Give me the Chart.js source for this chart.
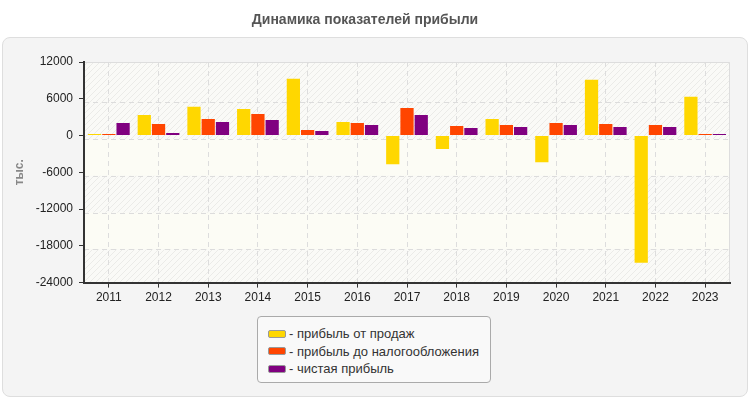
<!DOCTYPE html>
<html lang="ru">
<head>
<meta charset="UTF-8">
<title>Динамика показателей прибыли</title>
<script src="https://cdn.jsdelivr.net/npm/chart.js"></script>
<style>
    body { margin: 0; background: #fff; font-family: 'Liberation Sans', Arial, sans-serif; }
    .janela { position: relative; width: 750px; height: 400px; overflow: hidden; }
    .caixa {
        position: absolute; left: 2px; top: 37px; width: 744px; height: 358px;
        background: #f4f4f4; border: 1px solid #dedede; border-radius: 8px;
    }
    #grafico { position: absolute; left: 0; top: 0; }
    .legenda {
        position: absolute; left: 257px; top: 316px; width: 232px; height: 57px;
        padding-top: 8px; background: #f9f9f9; border: 1px solid #aaa; border-radius: 4px;
        font-size: 13px; color: #333;
    }
    .legenda div { height: 17.5px; line-height: 17.5px; padding-left: 10px; white-space: nowrap; }
    .legenda span {
        display: inline-block; width: 16px; height: 6px; border: 1px solid #999;
        border-radius: 2px; margin-right: 3px; vertical-align: middle; position: relative; top: -1px;
    }
</style>
</head>
<body>
<div class="janela">
    <div class="caixa"></div>
    <canvas id="grafico" width="750" height="400"></canvas>
    <div class="legenda" id="legenda"></div>
</div>

<script>
    const anos = ['2011', '2012', '2013', '2014', '2015', '2016', '2017',
        '2018', '2019', '2020', '2021', '2022', '2023'];

    const lucroVendas = [250, 3370, 4680, 4350, 9270, 2210, -4680, -2210, 2710, -4350, 9100, -20750, 6310];
    const lucroAntesImposto = [250, 1890, 2710, 3530, 900, 2050, 4510, 1560, 1720, 2050, 1890, 1720, 250];
    const lucroLiquido = [2050, 410, 2210, 2540, 740, 1720, 3360, 1230, 1390, 1720, 1390, 1390, 250];

    const nomesSeries = ['прибыль от продаж', 'прибыль до налогообложения', 'чистая прибыль'];
    const coresSeries = ['#FFD700', '#FF4500', '#800080'];

    const yMin = -24000;
    const yMax = 12000;
    const yPasso = 6000;

    // faixas do fundo, de cima para baixo (true = hachurado)
    const faixasHachuradas = [true, true, false, true, false, true];
    const deslocGrade = 3.5;

    function hachura(ctx) {
        const c = document.createElement('canvas');
        c.width = 6; c.height = 6;
        const g = c.getContext('2d');
        g.fillStyle = '#fafaf7';
        g.fillRect(0, 0, 6, 6);
        g.strokeStyle = 'rgba(0,0,0,0.06)';
        g.lineWidth = 1;
        g.beginPath();
        g.moveTo(0, 6); g.lineTo(6, 0);
        g.moveTo(-1, 1); g.lineTo(1, -1);
        g.moveTo(5, 7); g.lineTo(7, 5);
        g.stroke();
        return ctx.createPattern(c, 'repeat');
    }

    const fundoPlugin = {
        id: 'fundo',
        beforeDraw(chart) {
            const { ctx, chartArea: a, scales: { y } } = chart;
            ctx.save();
            ctx.fillStyle = '#fcfcf5';
            ctx.fillRect(a.left, a.top, a.right - a.left, a.bottom - a.top);

            // limites das faixas
            const limites = [a.top];
            for (let v = yMax - yPasso; v > yMin; v -= yPasso) {
                limites.push(y.getPixelForValue(v) + deslocGrade);
            }
            limites.push(a.bottom);

            ctx.fillStyle = hachura(ctx);
            for (let i = 0; i < limites.length - 1; i++) {
                if (faixasHachuradas[i]) {
                    ctx.fillRect(a.left, limites[i], a.right - a.left, limites[i + 1] - limites[i]);
                }
            }

            // linhas horizontais tracejadas
            ctx.strokeStyle = '#dcdcdc';
            ctx.lineWidth = 1;
            ctx.setLineDash([5, 4]);
            for (let i = 1; i < limites.length - 1; i++) {
                const yy = Math.round(limites[i]) + 0.5;
                ctx.beginPath();
                ctx.moveTo(a.left, yy);
                ctx.lineTo(a.right, yy);
                ctx.stroke();
            }

            // borda clara em cima e à direita
            ctx.setLineDash([]);
            ctx.strokeStyle = '#dddddd';
            ctx.beginPath();
            ctx.moveTo(a.left, Math.round(a.top) + 0.5);
            ctx.lineTo(Math.round(a.right) - 0.5, Math.round(a.top) + 0.5);
            ctx.lineTo(Math.round(a.right) - 0.5, a.bottom);
            ctx.stroke();
            ctx.restore();
        }
    };

    const dados = {
        labels: anos,
        datasets: [
            { label: nomesSeries[0], data: lucroVendas, backgroundColor: coresSeries[0] },
            { label: nomesSeries[1], data: lucroAntesImposto, backgroundColor: coresSeries[1] },
            { label: nomesSeries[2], data: lucroLiquido, backgroundColor: coresSeries[2] },
        ]
    };

    const fonteEixo = { family: "'Liberation Sans', Arial, sans-serif", size: 12 };

    const config = {
        type: 'bar',
        data: dados,
        options: {
            responsive: false,
            animation: false,
            devicePixelRatio: 1,
            layout: { padding: { left: 0, right: 20, top: 0, bottom: 92 } },
            datasets: {
                bar: { categoryPercentage: 0.86, barPercentage: 0.93, borderWidth: 0 }
            },
            plugins: {
                legend: { display: false },
                tooltip: { enabled: false },
                title: {
                    display: true,
                    text: 'Динамика показателей прибыли',
                    color: '#555',
                    font: { family: "'Liberation Sans Narrow', 'Liberation Sans', Arial, sans-serif", size: 14, weight: 'bold' },
                    padding: { top: 12, bottom: 33.2 }
                }
            },
            scales: {
                x: {
                    grid: {
                        offset: false,
                        color: '#dddddd',
                        tickColor: '#333',
                        tickLength: 5
                    },
                    border: { color: '#333', width: 2, dash: [5, 4] },
                    ticks: { color: '#222', font: fonteEixo, maxRotation: 0, autoSkip: false, padding: 3 }
                },
                y: {
                    min: yMin,
                    max: yMax,
                    afterFit(scale) { scale.width = 84; },
                    grid: {
                        drawOnChartArea: false,
                        tickColor: '#333',
                        tickLength: 5
                    },
                    border: { color: '#333', width: 2 },
                    ticks: {
                        stepSize: yPasso,
                        color: '#222',
                        font: fonteEixo,
                        padding: 6,
                        callback: v => String(v)
                    },
                    title: {
                        display: true,
                        text: 'тыс.',
                        color: '#888',
                        font: { family: "'Liberation Sans', Arial, sans-serif", size: 12, weight: 'bold' },
                        padding: { top: 12, bottom: 0 }
                    }
                }
            }
        },
        plugins: [fundoPlugin]
    };

    const grafico = new Chart(document.getElementById('grafico'), config);

    // legenda em html, montada a partir dos datasets
    const legenda = document.getElementById('legenda');
    grafico.data.datasets.forEach(ds => {
        const linha = document.createElement('div');
        const cor = document.createElement('span');
        cor.style.background = ds.backgroundColor;
        linha.appendChild(cor);
        linha.appendChild(document.createTextNode('- ' + ds.label));
        legenda.appendChild(linha);
    });
</script>
</body>
</html>
